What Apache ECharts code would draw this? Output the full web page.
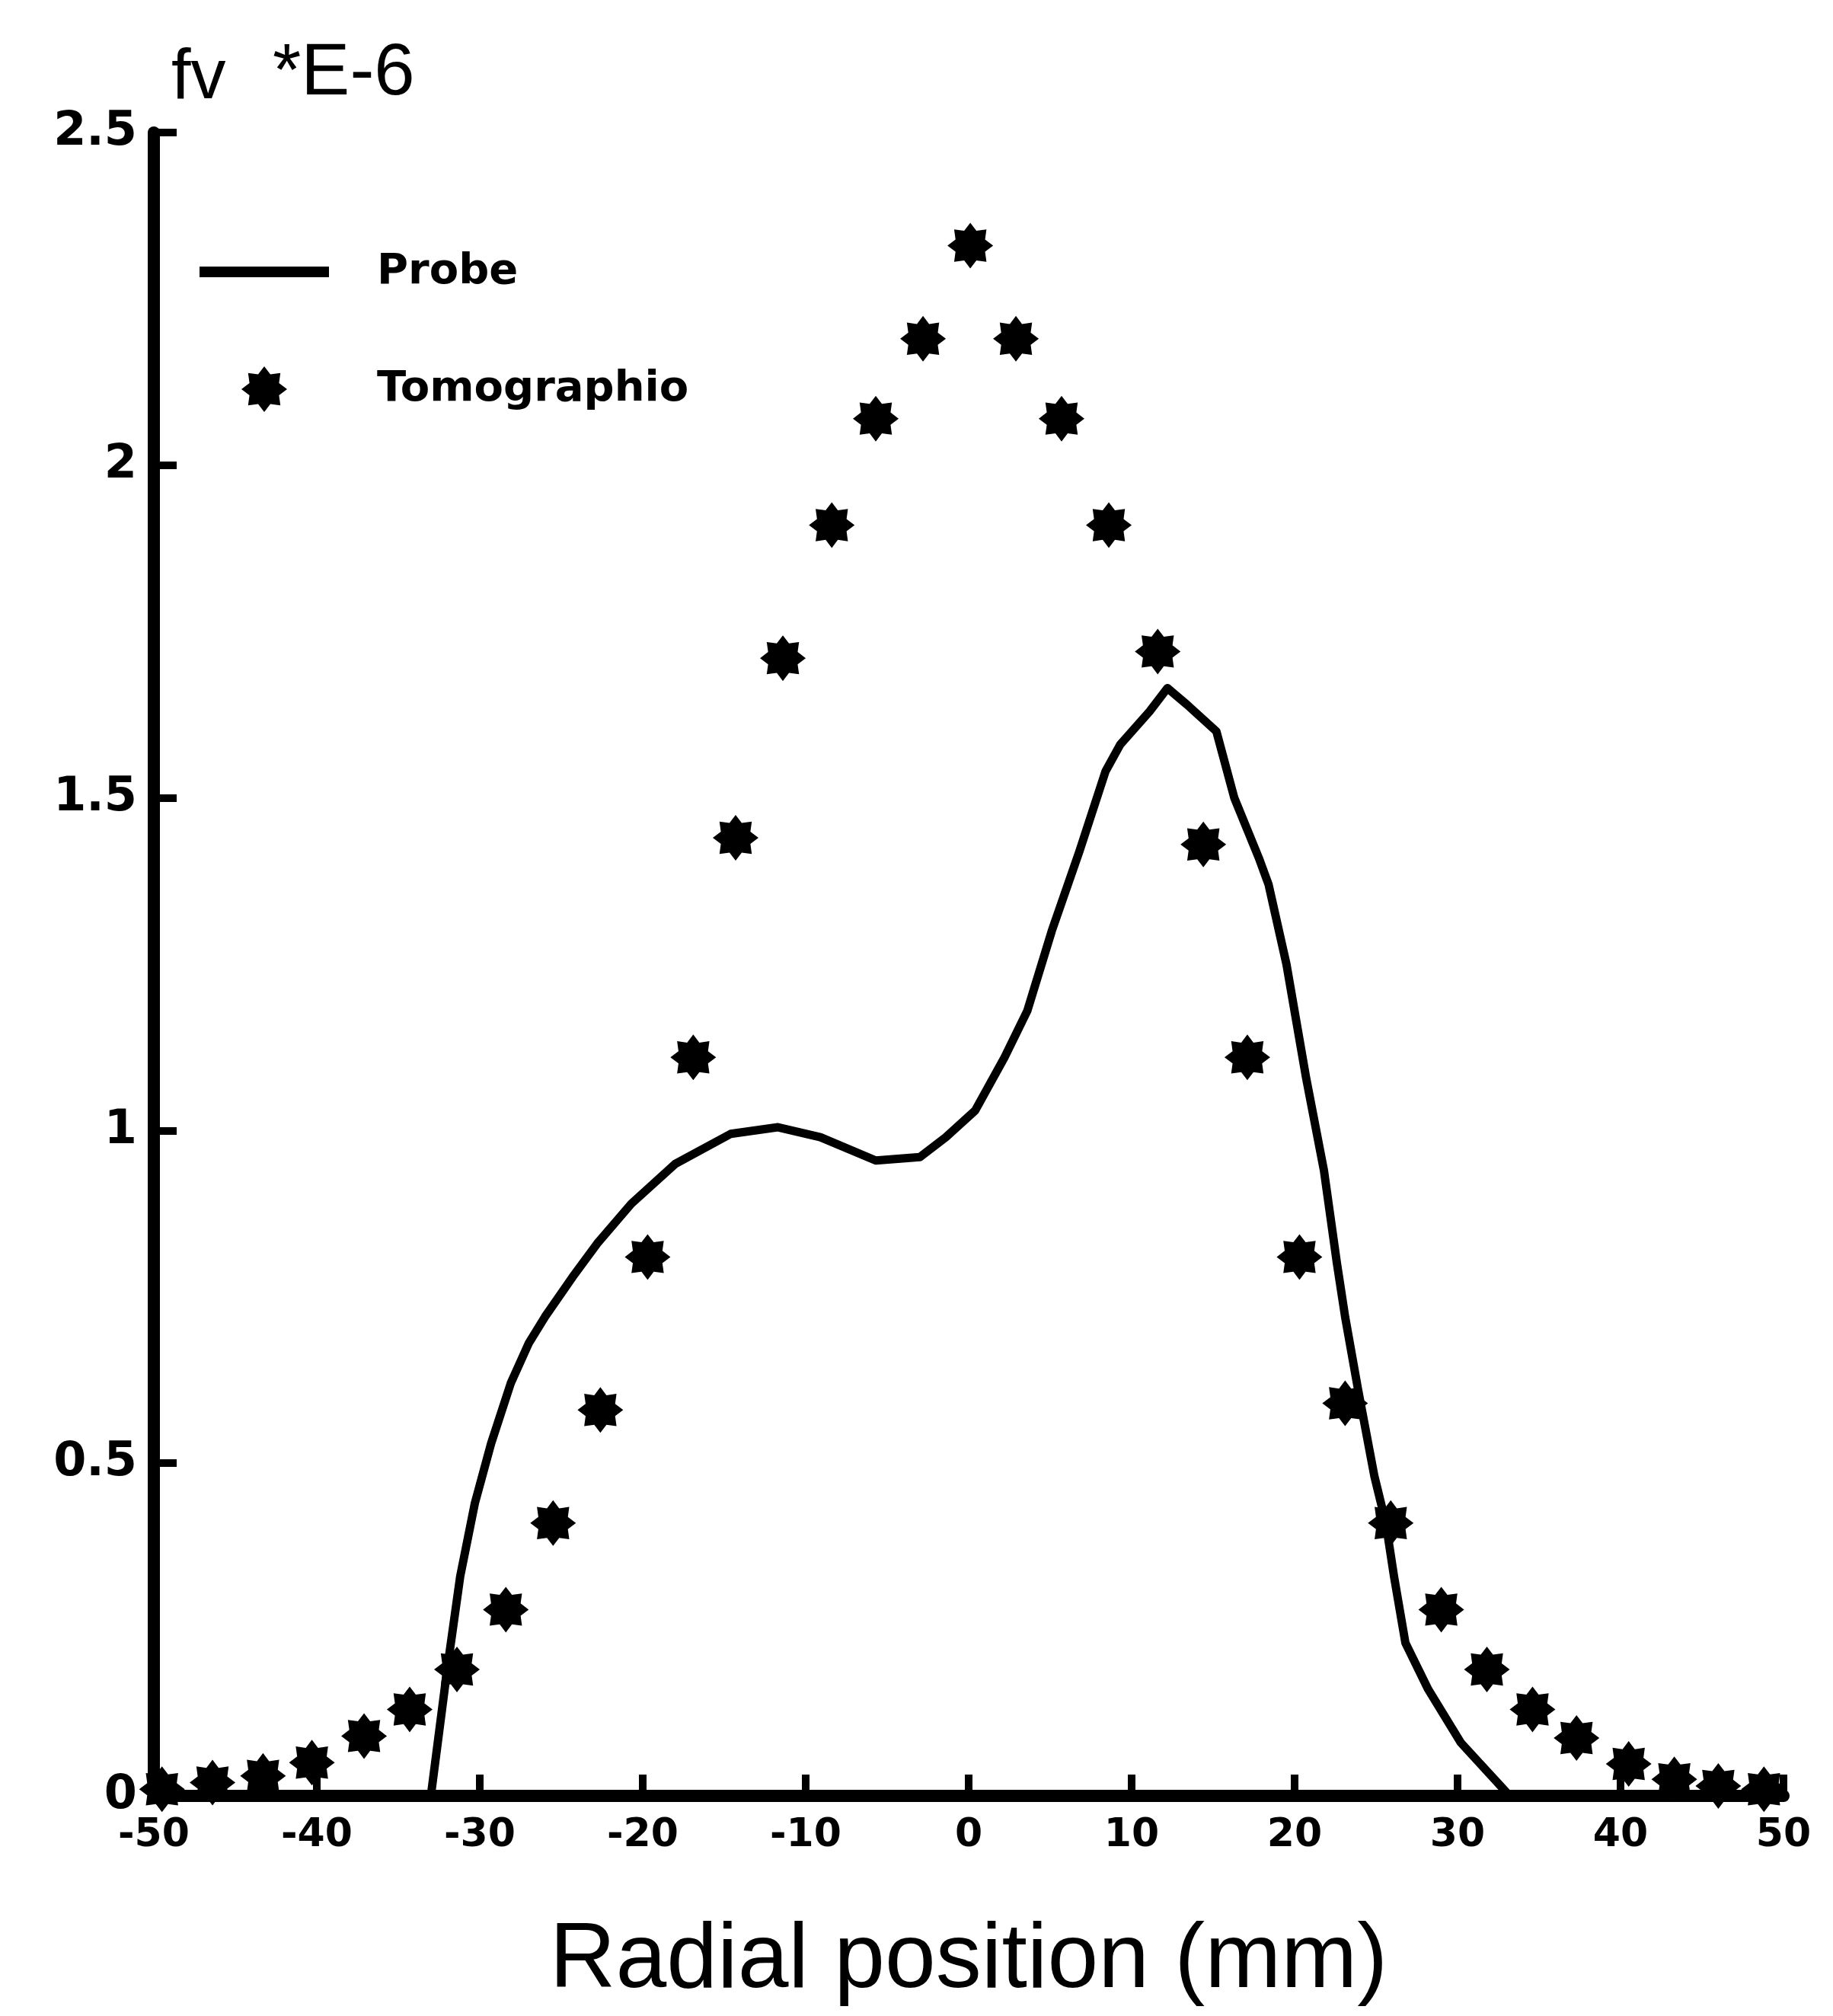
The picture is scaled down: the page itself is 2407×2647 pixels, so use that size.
<!DOCTYPE html>
<html><head><meta charset="utf-8">
<script src="https://cdn.jsdelivr.net/npm/echarts@6/dist/echarts.min.js"></script>
<style>html,body{margin:0;padding:0;background:#fff}#c{width:2407px;height:2647px}</style>
</head><body><div id="c"></div>
<script>
// ---- data ----
const probeX = [-33.0,-32.0,-31.2,-30.3,-29.3,-28.1,-27.0,-26.0,-24.3,-22.8,-20.7,-18.0,-14.6,-11.7,-9.1,-5.7,-3.0,-1.4,0.4,2.2,3.6,5.1,6.8,8.4,9.3,11.1,12.2,13.4,15.2,16.3,17.8,18.4,19.5,20.7,21.8,22.6,23.1,23.9,24.9,25.6,26.1,26.8,28.2,30.2,33.2];
const probeY = [0.0,0.19,0.33,0.44,0.53,0.62,0.68,0.72,0.78,0.83,0.89,0.95,0.995,1.005,0.99,0.955,0.96,0.99,1.03,1.11,1.18,1.30,1.42,1.54,1.58,1.63,1.665,1.64,1.60,1.50,1.41,1.37,1.25,1.08,0.94,0.80,0.72,0.61,0.48,0.41,0.33,0.23,0.16,0.08,0.0];
const tomoX = [-49.5,-46.4,-43.3,-40.3,-37.1,-34.3,-31.4,-28.4,-25.5,-22.6,-19.7,-16.9,-14.3,-11.4,-8.4,-5.7,-2.8,0.1,2.9,5.7,8.6,11.6,14.4,17.1,20.3,23.1,25.9,29.0,31.8,34.6,37.3,40.5,43.3,46.0,48.8];
const tomoY = [0.01,0.02,0.03,0.05,0.09,0.13,0.19,0.28,0.41,0.58,0.81,1.11,1.44,1.71,1.91,2.07,2.19,2.33,2.19,2.07,1.91,1.72,1.43,1.11,0.81,0.59,0.41,0.28,0.19,0.13,0.087,0.048,0.025,0.015,0.01];
const xAxisRange = [-50, 50, 10];
const yAxisRange = [0, 2.5, 0.5];
const seriesNames = ['Probe', 'Tomographio'];
const yTitle = 'fv';
const yUnit = '*E-6';
const xTitle = 'Radial position (mm)';

// ---- marker shape (8-pointed asterisk blob) ----
function starPath(n, rOut, rIn) {
  let d = '';
  for (let k = 0; k < 2 * n; k++) {
    const r = k % 2 === 0 ? rOut : rIn;
    const a = Math.PI * k / n - Math.PI / 2;
    d += (k === 0 ? 'M' : 'L') + (r * Math.cos(a)).toFixed(3) + ' ' + (r * Math.sin(a)).toFixed(3) + ' ';
  }
  return 'path://' + d + 'Z';
}
const STAR = starPath(8, 10, 7);
const LINE_ICON = 'path://M0 0 L170 0 L170 14 L0 14 Z';

const chart = echarts.init(document.getElementById('c'), null, {renderer: 'canvas'});
const xTickFont = {fontFamily: 'DejaVu Sans', fontWeight: 'bold', fontSize: 52, color: '#000'};
const yTickFont = {fontFamily: 'DejaVu Sans', fontWeight: 'bold', fontSize: 62, color: '#000'};

chart.setOption({
  backgroundColor: '#fff',
  animation: false,
  grid: {left: 202, right: 65, top: 174, bottom: 289, containLabel: false},
  legend: {
    orient: 'vertical', left: 257, top: 324,
    itemWidth: 170, itemHeight: 60, itemGap: 96,
    symbolKeepAspect: true,
    textStyle: {fontFamily: 'DejaVu Sans', fontWeight: 'bold', fontSize: 56, color: '#000', padding: [0, 0, 0, 58]},
    data: [
      {name: seriesNames[0], icon: LINE_ICON, itemStyle: {color: '#000', opacity: 1}},
      {name: seriesNames[1], itemStyle: {color: '#000', opacity: 1}}
    ]
  },
  xAxis: {
    type: 'value', min: xAxisRange[0], max: xAxisRange[1], interval: xAxisRange[2],
    name: xTitle, nameLocation: 'middle', nameGap: 158,
    nameTextStyle: {fontFamily: 'Liberation Sans', fontSize: 120, color: '#000'},
    axisLine: {onZero: false, lineStyle: {color: '#000', width: 16}},
    axisTick: {inside: true, length: 28, lineStyle: {color: '#000', width: 10}},
    axisLabel: Object.assign({margin: 26}, xTickFont),
    splitLine: {show: false}
  },
  yAxis: {
    type: 'value', min: yAxisRange[0], max: yAxisRange[1], interval: yAxisRange[2],
    axisLine: {show: true, onZero: false, lineStyle: {color: '#000', width: 16}},
    axisTick: {show: true, inside: true, length: 30, lineStyle: {color: '#000', width: 10}},
    axisLabel: Object.assign({margin: 22}, yTickFont),
    splitLine: {show: false}
  },
  graphic: [
    {type: 'text', left: 225, top: 58, style: {text: yTitle, font: '92px "Liberation Sans"', fill: '#000'}},
    {type: 'text', left: 358, top: 50, style: {text: yUnit, font: '96px "Liberation Sans"', fill: '#000'}}
  ],
  series: [
    {
      name: seriesNames[0], type: 'line', symbol: 'none', smooth: false,
      lineStyle: {color: '#000', width: 11, join: 'round'},
      itemStyle: {color: '#000'},
      data: probeX.map((x, i) => [x, probeY[i]]),
      z: 3
    },
    {
      name: seriesNames[1], type: 'scatter', symbol: STAR, symbolSize: 60,
      itemStyle: {color: '#000', opacity: 1},
      data: tomoX.map((x, i) => [x, tomoY[i]]),
      clip: false, z: 4
    }
  ]
});
</script></body></html>
